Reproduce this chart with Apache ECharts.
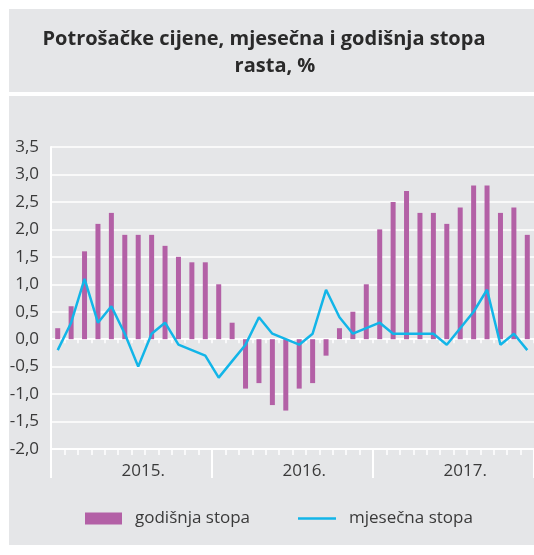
<!DOCTYPE html>
<html>
<head>
<meta charset="utf-8">
<script src="https://cdn.jsdelivr.net/npm/echarts@6/dist/echarts.min.js"></script>
<style>
html,body{margin:0;padding:0;background:#fff;}
#chart{width:534px;height:555px;}
</style>
</head>
<body>
<div id="chart"></div>
<script>
const titleLines = ['Potrošačke cijene, mjesečna i godišnja stopa', 'rasta, %'];
const years = ['2015.', '2016.', '2017.'];
const months = [
  '1/2015','2/2015','3/2015','4/2015','5/2015','6/2015','7/2015','8/2015','9/2015','10/2015','11/2015','12/2015',
  '1/2016','2/2016','3/2016','4/2016','5/2016','6/2016','7/2016','8/2016','9/2016','10/2016','11/2016','12/2016',
  '1/2017','2/2017','3/2017','4/2017','5/2017','6/2017','7/2017','8/2017','9/2017','10/2017','11/2017','12/2017'
];
const godisnjaStopa = [
  0.2, 0.6, 1.6, 2.1, 2.3, 1.9, 1.9, 1.9, 1.7, 1.5, 1.4, 1.4,
  1.0, 0.3, -0.9, -0.8, -1.2, -1.3, -0.9, -0.8, -0.3, 0.2, 0.5, 1.0,
  2.0, 2.5, 2.7, 2.3, 2.3, 2.1, 2.4, 2.8, 2.8, 2.3, 2.4, 1.9
];
const mjesecnaStopa = [
  -0.2, 0.3, 1.1, 0.3, 0.6, 0.1, -0.5, 0.1, 0.3, -0.1, -0.2, -0.3,
  -0.7, -0.4, -0.1, 0.4, 0.1, 0.0, -0.1, 0.1, 0.9, 0.4, 0.1, 0.2,
  0.3, 0.1, 0.1, 0.1, 0.1, -0.1, 0.2, 0.5, 0.9, -0.1, 0.1, -0.2
];
const seriesNames = ['godišnja stopa', 'mjesečna stopa'];

const BG = '#e5e6e8';
const PURPLE = '#b360a6';
const CYAN = '#12b5e8';
const TXT = '#3a3a3a';
const FONT = '"Open Sans", "Noto Sans", sans-serif';

const chart = echarts.init(document.getElementById('chart'), null, {renderer: 'canvas'});
chart.setOption({
  animation: false,
  backgroundColor: '#ffffff',
  graphic: [
    {type: 'rect', z: -10, shape: {x: 9, y: 9, width: 530, height: 83}, style: {fill: BG}},
    {type: 'rect', z: -10, shape: {x: 9, y: 96, width: 530, height: 449}, style: {fill: BG}},
    {type: 'text', z: 5, x: 264, y: 39, style: {text: titleLines[0], align: 'center', verticalAlign: 'middle', font: 'bold 20px ' + FONT, fill: '#2a2a2a'}},
    {type: 'text', z: 5, x: 275, y: 66, style: {text: titleLines[1], align: 'center', verticalAlign: 'middle', font: 'bold 20px ' + FONT, fill: '#2a2a2a'}}
  ],
  legend: [
    {
      data: [{name: seriesNames[0], icon: 'rect'}],
      left: 80, top: 505,
      itemWidth: 37, itemHeight: 12,
      textStyle: {fontFamily: FONT, fontSize: 17, color: TXT, padding: [0, 0, 0, 8]}
    },
    {
      data: [{name: seriesNames[1], icon: 'rect'}],
      left: 293, top: 505,
      itemWidth: 38, itemHeight: 2.5,
      itemStyle: {color: CYAN},
      textStyle: {fontFamily: FONT, fontSize: 17, color: TXT, padding: [0, 0, 0, 8]}
    }
  ],
  grid: {left: 51, right: -3, top: 147, bottom: 106, containLabel: false},
  xAxis: [
    {
      type: 'category', data: months, position: 'bottom', boundaryGap: true,
      axisLine: {show: true, onZero: false, lineStyle: {color: '#ffffff', width: 2}},
      axisTick: {show: true, interval: 0, length: 6, lineStyle: {color: '#ffffff', width: 1.5}},
      axisLabel: {show: false},
      splitLine: {show: false}
    },
    {
      type: 'category', data: months, position: 'bottom', boundaryGap: true,
      axisLine: {show: false, onZero: false},
      axisTick: {show: true, interval: 11, length: 29, lineStyle: {color: '#ffffff', width: 2}},
      axisLabel: {
        show: true,
        interval: function (index) { return index % 12 === 6; },
        formatter: function (value, index) { return years[Math.floor(index / 12)]; },
        margin: 14, fontFamily: FONT, fontSize: 17, color: TXT,
        padding: [0, 0, 0, 10]
      },
      splitLine: {show: false}
    },
    {
      type: 'category', data: months, position: 'bottom', boundaryGap: true,
      axisLine: {show: true, onZero: true, lineStyle: {color: '#ffffff', width: 1.5}},
      axisTick: {show: true, interval: 0, length: 4, lineStyle: {color: '#ffffff', width: 1.5}},
      axisLabel: {show: false},
      splitLine: {show: false}
    }
  ],
  yAxis: {
    type: 'value', min: -2, max: 3.5, interval: 0.5,
    axisLine: {show: true, lineStyle: {color: '#ffffff', width: 2}},
    axisTick: {show: false},
    axisLabel: {
      margin: 12, fontFamily: FONT, fontSize: 17, color: TXT,
      formatter: function (v) { return v.toFixed(1).replace('.', ','); }
    },
    splitLine: {show: true, lineStyle: {color: '#ffffff', width: 1.5}}
  },
  series: [
    {
      name: seriesNames[0], type: 'bar', data: godisnjaStopa, xAxisIndex: 0,
      barWidth: 5, itemStyle: {color: PURPLE}, z: 3
    },
    {
      name: seriesNames[1], type: 'line', data: mjesecnaStopa, xAxisIndex: 0,
      symbol: 'none', lineStyle: {color: CYAN, width: 2.5}, itemStyle: {color: CYAN}, z: 4
    }
  ]
});
</script>
</body>
</html>
